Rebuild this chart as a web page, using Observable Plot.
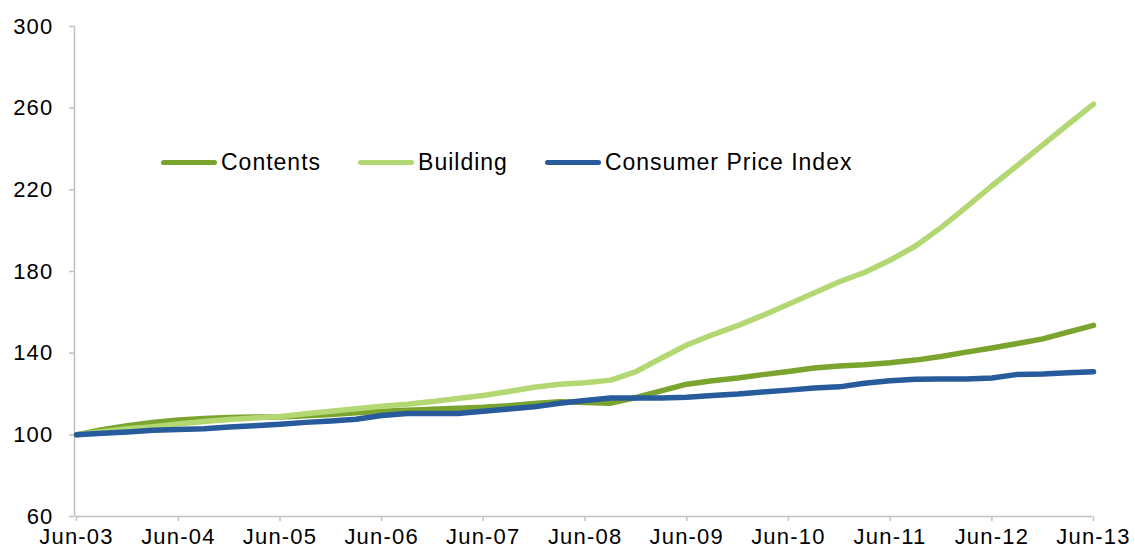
<!DOCTYPE html>
<html>
<head>
<meta charset="utf-8">
<script src="https://cdn.jsdelivr.net/npm/d3@7"></script>
<script src="https://cdn.jsdelivr.net/npm/@observablehq/plot@0.6"></script>
<style>
  html, body { margin: 0; padding: 0; background: #fff; }
  #wrap { position: relative; width: 1135px; height: 554px; font-family: "Liberation Sans", Arial, sans-serif; }
  #legend { position: absolute; left: 161px; top: 149px; display: flex; align-items: center; font-size: 23px; letter-spacing: 1.0px; color: #000; }
  #legend .item { display: flex; align-items: center; margin-right: 37px; }
  #legend .sw { width: 56px; height: 5px; border-radius: 3px; margin-right: 4px; }
</style>
</head>
<body>
<div id="wrap"><div id="legend"></div></div>
<script>
// Quarterly index values, Jun-03 = 100
const seriesNames = ["Contents", "Building", "Consumer Price Index"];
const seriesColors = ["#7aa42e", "#b3d873", "#275b9b"];

const contents = [
  100, 102.5, 104.5, 106, 107.3, 108, 108.5, 108.7, 108.7, 109.3,
  110, 110.8, 111.5, 112, 112.5, 113, 113.5, 114.3, 115.3, 116.2,
  115.8, 115.5, 118.3, 121.5, 124.8, 126.5, 127.8, 129.5, 131, 132.7,
  133.7, 134.3, 135.3, 136.6, 138.4, 140.5, 142.5, 144.7, 147, 150.3,
  153.6
];
const building = [
  100, 101.5, 103, 104, 105.3, 106.5, 107.5, 108.2, 109, 110.3,
  111.5, 112.8, 114, 115, 116.3, 117.8, 119.3, 121.2, 123.3, 124.8,
  125.5, 126.8, 131, 137.5, 144, 149, 153.5, 158.5, 164, 169.5,
  175, 179.5, 185.5, 192.5, 201.5, 211.5, 222, 232, 242, 252,
  262
];
const cpi = [
  100, 100.8, 101.4, 102.2, 102.6, 103, 103.8, 104.5, 105.2, 106.1,
  106.8, 107.6, 109.5, 110.4, 110.5, 110.5, 111.6, 112.6, 113.7, 115.5,
  116.8, 118, 118, 118, 118.4, 119.3, 120, 121, 121.9, 122.9,
  123.5, 125.3, 126.5, 127.2, 127.4, 127.4, 127.8, 129.6, 129.8, 130.4,
  130.9
];
const tickLabels = ["Jun-03","Jun-04","Jun-05","Jun-06","Jun-07","Jun-08","Jun-09","Jun-10","Jun-11","Jun-12","Jun-13"];
const yTicks = [60, 100, 140, 180, 220, 260, 300];

const start = new Date(Date.UTC(2003, 5, 1));
const quarters = contents.map((_, i) => d3.utcMonth.offset(start, 3 * i));
const xTicks = tickLabels.map((_, i) => d3.utcYear.offset(start, i));

const allSeries = [contents, building, cpi];
const data = allSeries.flatMap((vals, s) =>
  vals.map((v, i) => ({ date: quarters[i], value: v, series: seriesNames[s] }))
);

const axisColor = "#c0c0c0";
const font = "Liberation Sans, Arial, sans-serif";

const chart = Plot.plot({
  width: 1135,
  height: 554,
  marginLeft: 76,
  marginRight: 42,
  marginTop: 26,
  marginBottom: 38,
  style: { fontFamily: font, fontSize: "22px", color: "#000", background: "#fff", letterSpacing: "1.2px" },
  x: { type: "utc", domain: [start, xTicks[xTicks.length - 1]], label: null },
  y: { domain: [60, 300], label: null },
  color: { domain: seriesNames, range: seriesColors },
  marks: [
    Plot.ruleX([start], { stroke: axisColor, strokeWidth: 1.5, dx: -2 }),
    Plot.ruleY([60], { stroke: axisColor, strokeWidth: 1.5, dx: -1 }),
    Plot.axisY({ ticks: yTicks, tickSize: 5, tickPadding: 16, stroke: axisColor, strokeWidth: 1.5, dx: -2, tickFormat: d => String(d), fill: "#000" }),
    Plot.axisX({ ticks: xTicks, tickSize: 5, tickPadding: 7, stroke: axisColor, strokeWidth: 1.5, tickFormat: (d, i) => tickLabels[i], fill: "#000" }),
    ...seriesNames.map((name, s) =>
      Plot.line(data.filter(d => d.series === name), {
        x: "date", y: "value", stroke: seriesColors[s], strokeWidth: 5.5,
        strokeLinejoin: "round", strokeLinecap: "round"
      })
    )
  ]
});

const wrap = document.getElementById("wrap");
wrap.insertBefore(chart, wrap.firstChild);

const legend = d3.select("#legend");
seriesNames.forEach((name, s) => {
  const it = legend.append("div").attr("class", "item");
  it.append("div").attr("class", "sw").style("background", seriesColors[s]);
  it.append("span").text(name);
});
</script>
</body>
</html>
